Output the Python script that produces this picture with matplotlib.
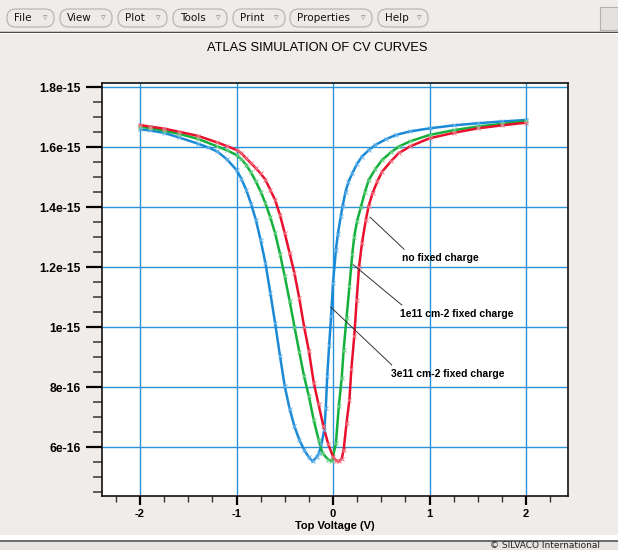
import matplotlib
matplotlib.use("Agg")
import matplotlib.pyplot as plt
from matplotlib.patches import FancyBboxPatch, Rectangle
from matplotlib.ticker import MultipleLocator

# ---------------- data (capacitance in units of 1e-15 F) ----------------
v_nofix = [-2.0, -1.9, -1.75, -1.6, -1.4, -1.2, -1.1, -1.0, -0.95, -0.9, -0.85, -0.8,
           -0.75, -0.7, -0.65, -0.6, -0.55, -0.5, -0.45, -0.4, -0.35, -0.3, -0.25, -0.2,
           -0.15, -0.1, -0.05, 0.0, 0.03, 0.06, 0.09, 0.11, 0.14, 0.17, 0.19, 0.22,
           0.245, 0.27, 0.3, 0.34, 0.37, 0.41, 0.46, 0.51, 0.6, 0.68, 0.8, 1.0, 1.25,
           1.5, 1.75, 2.0]
c_nofix = [1.674, 1.669, 1.662, 1.652, 1.638, 1.616, 1.604, 1.591, 1.580, 1.563, 1.547, 1.530,
           1.513, 1.491, 1.458, 1.424, 1.374, 1.313, 1.247, 1.180, 1.097, 1.002, 0.920, 0.815,
           0.742, 0.670, 0.610, 0.568, 0.555, 0.552, 0.560, 0.591, 0.680, 0.758, 0.860, 0.969,
           1.090, 1.202, 1.280, 1.358, 1.405, 1.447, 1.487, 1.519, 1.553, 1.580, 1.603, 1.630, 1.648,
           1.663, 1.673, 1.682]

v_1e11 = [-2.0, -1.9, -1.75, -1.6, -1.4, -1.2, -1.1, -1.0, -0.95, -0.9, -0.85, -0.8,
          -0.75, -0.7, -0.65, -0.6, -0.55, -0.5, -0.45, -0.4, -0.35, -0.3, -0.25, -0.2,
          -0.15, -0.11, -0.05, -0.01, 0.03, 0.06, 0.09, 0.11, 0.14, 0.17, 0.2, 0.22,
          0.25, 0.29, 0.33, 0.37, 0.44, 0.51, 0.6, 0.68, 0.8, 1.0, 1.25, 1.5, 1.75, 2.0]
c_1e11 = [1.669, 1.664, 1.655, 1.645, 1.628, 1.603, 1.590, 1.574, 1.560, 1.541, 1.516, 1.486,
          1.452, 1.413, 1.366, 1.313, 1.245, 1.169, 1.088, 1.002, 0.918, 0.836, 0.769, 0.690,
          0.625, 0.580, 0.558, 0.553, 0.613, 0.736, 0.830, 0.924, 1.030, 1.136, 1.245, 1.302,
          1.355, 1.402, 1.450, 1.491, 1.528, 1.558, 1.583, 1.602, 1.620, 1.641, 1.657, 1.669,
          1.678, 1.686]

v_3e11 = [-2.0, -1.9, -1.75, -1.6, -1.4, -1.3, -1.2, -1.1, -1.0, -0.95, -0.9, -0.85,
          -0.8, -0.75, -0.7, -0.65, -0.6, -0.55, -0.5, -0.45, -0.4, -0.35, -0.3, -0.25,
          -0.21, -0.17, -0.145, -0.12, -0.09, -0.075, -0.06, -0.04, -0.02, 0.0, 0.03, 0.05,
          0.08, 0.1, 0.13, 0.16, 0.2, 0.25, 0.3, 0.37, 0.44, 0.55, 0.65, 0.8, 1.0, 1.25,
          1.5, 1.75, 2.0]
c_3e11 = [1.660, 1.656, 1.648, 1.633, 1.612, 1.600, 1.586, 1.560, 1.524, 1.495, 1.458, 1.412,
          1.358, 1.290, 1.213, 1.115, 1.013, 0.905, 0.802, 0.728, 0.669, 0.625, 0.591, 0.566,
          0.552, 0.566, 0.580, 0.610, 0.658, 0.730, 0.836, 0.940, 1.036, 1.147, 1.258, 1.310,
          1.369, 1.405, 1.452, 1.485, 1.513, 1.545, 1.569, 1.590, 1.608, 1.627, 1.641, 1.653,
          1.663, 1.673, 1.680, 1.686, 1.691]

x_ticks = [-2, -1, 0, 1, 2]
x_ticklabels = ["-2", "-1", "0", "1", "2"]
y_ticks = [0.6, 0.8, 1.0, 1.2, 1.4, 1.6, 1.8]
y_ticklabels = ["6e-16", "8e-16", "1e-15", "1.2e-15", "1.4e-15", "1.6e-15", "1.8e-15"]

labels = ["no fixed charge", "1e11 cm-2 fixed charge", "3e11 cm-2 fixed charge"]
menu_items = ["File", "View", "Plot", "Tools", "Print", "Properties", "Help"]

# ---------------- figure ----------------
W, H = 618, 550
BG = "#efece9"
fig = plt.figure(figsize=(W / 100, H / 100), dpi=100, facecolor=BG)
FONT = "Liberation Sans"

def fx(px):
    return px / W

def fy(py):
    return 1 - py / H

# menu bar
menu_x = [(7, 54), (60, 112), (118, 167), (173, 227), (233, 285), (290, 372), (378, 428)]
for name, (x0, x1) in zip(menu_items, menu_x):
    box = FancyBboxPatch((fx(x0), fy(27)), fx(x1) - fx(x0), fy(9) - fy(27),
                         boxstyle="round,pad=0,rounding_size=0.014",
                         transform=fig.transFigure, facecolor="#edeae7",
                         edgecolor="#b5b1ad", linewidth=0.8, mutation_aspect=1.1)
    fig.add_artist(box)
    fig.text(fx(x0 + 7), fy(18), name, fontsize=7.5, family="DejaVu Sans",
             ha="left", va="center", color="#111111")
    fig.text(fx(x1 - 7), fy(18), "\u25bf", fontsize=6.5, family="DejaVu Sans",
             ha="right", va="center", color="#888888")
fig.add_artist(Rectangle((fx(600), fy(30)), fx(618) - fx(600), fy(7) - fy(30),
                         transform=fig.transFigure, facecolor="#e4e1de",
                         edgecolor="#b5b1ad", linewidth=0.8))
fig.add_artist(plt.Line2D([0, 1], [fy(31.5), fy(31.5)], transform=fig.transFigure,
                          color="#222222", linewidth=1.0))
fig.add_artist(plt.Line2D([0, 1], [fy(33), fy(33)], transform=fig.transFigure,
                          color="white", linewidth=1.0))
# bottom status strip
fig.add_artist(Rectangle((0, 0), 1, fy(535), transform=fig.transFigure,
                         facecolor="white", edgecolor="none"))
fig.add_artist(Rectangle((0, 0), 1, fy(541), transform=fig.transFigure,
                         facecolor="#e6e3e0", edgecolor="none"))
fig.add_artist(plt.Line2D([0, 1], [fy(540.5), fy(540.5)], transform=fig.transFigure,
                          color="#555555", linewidth=1.2))
fig.text(fx(490), fy(546), "\u00a9 SILVACO International", fontsize=6.5,
         family="DejaVu Sans", ha="left", va="center", color="#222222")

# title
fig.text(fx(317), fy(48), "ATLAS SIMULATION OF CV CURVES", fontsize=9.3,
         family=FONT, ha="center", va="center", color="black")

# axes
ax = fig.add_axes([fx(102), fy(496), fx(568) - fx(102), fy(83) - fy(496)])
ax.set_facecolor("white")
ax.set_xlim(-2.394, 2.435)
ax.set_ylim(0.4367, 1.8143)

grid_c = "#2b92d8"
ax.set_xticks(x_ticks)
ax.set_xticklabels(x_ticklabels)
ax.set_yticks(y_ticks)
ax.set_yticklabels(y_ticklabels)
ax.xaxis.set_minor_locator(MultipleLocator(0.25))
ax.yaxis.set_minor_locator(MultipleLocator(0.05))
ax.grid(True, which="major", color=grid_c, linewidth=1.0, zorder=0)
ax.set_axisbelow(True)

for lab in ax.get_xticklabels():
    lab.set_family(FONT)
    lab.set_fontweight("bold")
    lab.set_fontsize(8)
for lab in ax.get_yticklabels():
    lab.set_family(FONT)
    lab.set_fontweight("bold")
    lab.set_fontsize(8.7)

ax.tick_params(axis="x", which="major", direction="out", length=6.5, width=1.6,
               color="black", pad=3)
ax.tick_params(axis="x", which="minor", direction="out", length=4, width=1.0,
               color="#333333")
ax.tick_params(axis="y", which="major", direction="out", length=11.5, width=1.6,
               color="black", pad=4)
ax.tick_params(axis="y", which="minor", direction="out", length=6.5, width=1.2,
               color="#444444")
for sp in ax.spines.values():
    sp.set_color("#111111")
    sp.set_linewidth(1.2)

ax.set_xlabel("Top Voltage (V)", family=FONT, fontweight="bold", fontsize=8,
              labelpad=1)

series = [
    (v_3e11, c_3e11, "#1a8ad6", "#6ab6ea"),
    (v_1e11, c_1e11, "#14b03c", "#6fd38a"),
    (v_nofix, c_nofix, "#e8102c", "#f27d8c"),
]
for v, c, col, mcol in series:
    ax.plot(v, c, color=col, linewidth=1.8, zorder=3, solid_joinstyle="round")
    ax.plot(v, c, linestyle="none", marker="x", markersize=3, markeredgewidth=0.7,
            color=mcol, zorder=4)

# annotations
ann = [
    (labels[0], (0.383, 1.367), (0.736, 1.26), (0.715, 1.232)),
    (labels[1], (0.21, 1.208), (0.712, 1.074), (0.694, 1.045)),
    (labels[2], (-0.024, 1.067), (0.608, 0.874), (0.598, 0.845)),
]
for text, p0, p1, pt in ann:
    ax.plot([p0[0], p1[0]], [p0[1], p1[1]], color="#333333", linewidth=0.7, zorder=5)
    ax.text(pt[0], pt[1], text, family=FONT, fontweight="bold", fontsize=7.5,
            ha="left", va="center", color="black", zorder=6)

fig.savefig("out.png", dpi=100, facecolor=BG)
